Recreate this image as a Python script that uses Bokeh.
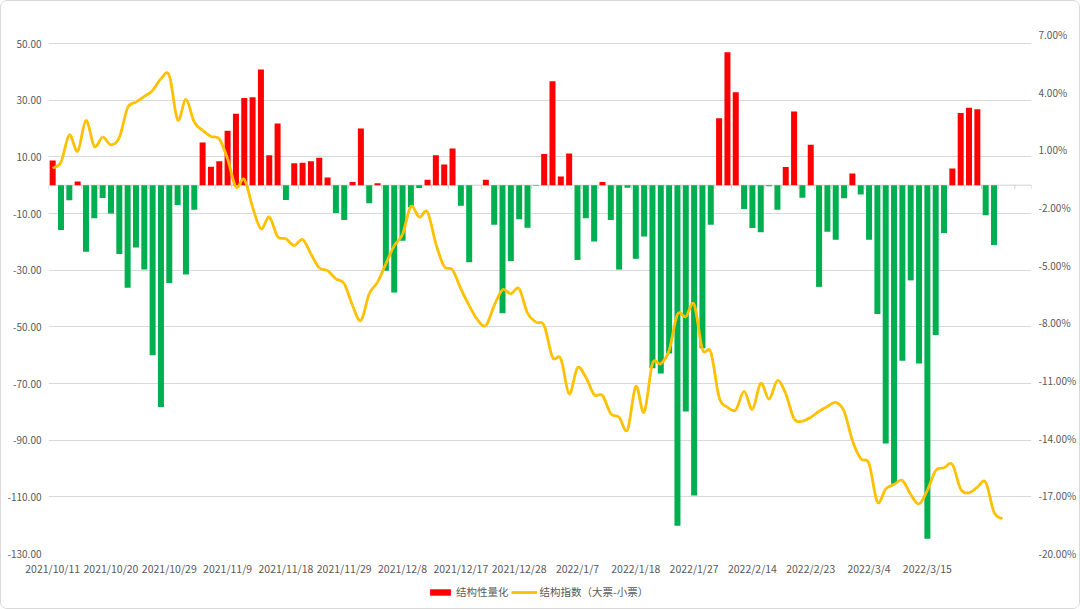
import numpy as np
from bokeh.plotting import figure
from bokeh.layouts import column
from bokeh.models import (Range1d, LinearAxis, FixedTicker, PrintfTickFormatter,
                          Legend, LegendItem, ColumnDataSource, Span)
from bokeh.embed import file_html
from bokeh.resources import INLINE

# ---------------- data ----------------
tick_labels = ["2021/10/11", "2021/10/20", "2021/10/29", "2021/11/9", "2021/11/18",
               "2021/11/29", "2021/12/8", "2021/12/17", "2021/12/28", "2022/1/7",
               "2022/1/18", "2022/1/27", "2022/2/14", "2022/2/23", "2022/3/4", "2022/3/15"]
label_step = 7          # one date label every 7 trading days
n_slots = 118           # category slots on the axis (the last few are empty)

# 结构性量化 (bars, left axis)
bar_values = [
    8.7, -15.8, -5.3, 1.3, -23.5, -11.7, -4.5, -10.0, -24.3, -36.2, -22.0, -29.8, -60.0, -78.3,
    -34.5, -7.0, -31.5, -8.7, 15.1,
    6.5, 8.4, 19.2, 25.2, 30.8, 31.0, 40.8, 10.6, 21.8, -5.2, 7.7, 7.9, 8.4, 9.7, 2.7, -9.8,
    -12.3, 1.1, 20.0,
    -6.4, 0.7, -30.2, -37.9, -19.6, -7.8, -1.0, 1.9, 10.6, 7.3, 12.9, -7.3, -27.2, 0.0, 1.9,
    -14.0, -45.2, -26.8, -12.0, -15.0,
    -0.2, 11.0, 36.7, 3.1, 11.2, -26.4, -11.7, -19.9, 1.1, -12.3, -29.8, -0.9, -26.0, -18.1,
    -64.6, -66.5, -59.4, -120.2, -79.9,
    -109.5, -57.6, -14.0, 23.6, 46.9, 32.8, -8.4, -15.1, -16.6, -0.4, -8.7, 6.4, 26.0, -4.4,
    14.3, -35.9, -16.4, -19.3, -4.6,
    4.1, -3.3, -19.3, -45.5, -91.2, -105.4, -62.0, -33.6, -62.9, -124.8, -52.9, -16.9, 5.9,
    25.5, 27.3, 26.8, -10.6, -21.1,
]

# 结构指数（大票-小票）(line, right axis, in %)
line_values = [
    0.05, 0.36, 1.78, 0.93, 2.53, 1.18, 1.66, 1.26, 1.64, 3.19, 3.48, 3.78, 4.09, 4.70, 4.87,
    2.56, 3.62, 2.44, 2.01,
    1.70, 1.57, 0.53, -0.94, -0.54, -1.98, -3.11, -2.50, -3.51, -3.63, -3.98, -3.66, -4.41,
    -5.14, -5.28, -5.71, -5.97, -7.10, -7.88,
    -6.49, -5.88, -4.93, -3.98, -3.40, -1.95, -2.50, -2.24, -3.89, -5.07, -5.24, -6.23, -7.10,
    -7.84, -8.14, -7.10, -6.28, -6.49, -6.23, -7.50,
    -7.96, -8.14, -9.79, -9.87, -11.69, -10.34, -10.83, -11.74, -11.78, -12.73, -12.91, -13.57,
    -11.31, -12.65, -10.13, -10.13, -9.44, -7.56, -7.68,
    -7.04, -9.39, -9.52, -11.87, -12.39, -12.53, -11.57, -12.50, -11.14, -11.97, -11.00,
    -11.69, -12.99, -13.11, -12.91, -12.60, -12.35, -12.14, -12.60,
    -14.12, -15.07, -15.33, -17.33, -16.64, -16.41, -16.20, -16.93, -17.42, -16.72, -15.68,
    -15.54, -15.37, -16.64, -16.84, -16.55, -16.29, -17.85, -18.20,
]

left_ticks = list(range(-130, 51, 20))
right_ticks = list(range(-20, 8, 3))
series_names = ["结构性量化", "结构指数（大票-小票）"]

# ---------------- style ----------------
FONT = "Noto Sans CJK SC"
TXT = "#595959"
GRID = "#D9D9D9"
RED = "#FF0000"
GREEN = "#00B050"
GOLD = "#FFC000"

W = 1078
H_MAIN, H_LEG = 578, 29

p = figure(width=W, height=H_MAIN, output_backend="svg", toolbar_location=None,
           x_range=Range1d(-0.5, n_slots - 0.5), y_range=Range1d(-130, 53.18),
           min_border_left=47, min_border_right=46, min_border_top=33,
           min_border_bottom=H_MAIN - 552)
p.extra_y_ranges = {"right": Range1d(-20, 7.001)}
p.outline_line_color = None
p.background_fill_color = "white"
p.border_fill_color = "white"

# grid
p.xgrid.visible = False
p.ygrid.ticker = FixedTicker(ticks=left_ticks)
p.ygrid.grid_line_color = GRID
p.ygrid.grid_line_width = 1


def style_axis(ax, standoff, size):
    ax.axis_line_color = None
    ax.major_tick_line_color = None
    ax.minor_tick_line_color = None
    ax.major_tick_out = 0
    ax.major_tick_in = 0
    ax.minor_tick_out = 0
    ax.minor_tick_in = 0
    ax.major_label_standoff = standoff
    ax.major_label_text_font = FONT
    ax.major_label_text_font_size = size
    ax.major_label_text_color = TXT


# left axis
ya = p.yaxis[0]
ya.ticker = FixedTicker(ticks=left_ticks)
ya.formatter = PrintfTickFormatter(format="%.2f")
style_axis(ya, 7, "10px")

# right axis
ra = LinearAxis(y_range_name="right", ticker=FixedTicker(ticks=right_ticks),
                formatter=PrintfTickFormatter(format="%.2f%%"))
style_axis(ra, 7, "10px")
p.add_layout(ra, "right")

# bottom axis (date labels)
xa = p.xaxis[0]
tick_pos = [i * label_step for i in range(len(tick_labels))]
xa.ticker = FixedTicker(ticks=tick_pos)
xa.major_label_overrides = {pos: lab for pos, lab in zip(tick_pos, tick_labels)}
style_axis(xa, 7, "10.5px")

# zero (category) axis line with small tick marks
p.add_layout(Span(location=0, dimension="width", line_color="#D0D0D0", line_width=1,
                  level="underlay"))
tx = np.arange(0, n_slots + 1, 2) - 0.5
p.segment(x0=tx, y0=np.zeros_like(tx), x1=tx, y1=np.full_like(tx, -1.45),
          line_color="#D0D0D0", line_width=1, level="underlay")

# bars
bv = np.array(bar_values)
src = ColumnDataSource(dict(x=np.arange(len(bv)), top=bv,
                            color=[RED if v >= 0 else GREEN for v in bv]))
p.vbar(x="x", top="top", bottom=0, width=0.72, fill_color="color",
       line_color=None, source=src)

# smooth line (Excel style) drawn as cubic Bezier segments through the data points
lv = np.array(line_values)
lx = np.arange(len(lv), dtype=float)
pts = np.column_stack([lx, lv])
prev = np.vstack([pts[:1], pts[:-1]])
nxt = np.vstack([pts[1:], pts[-1:]])
tang = (nxt - prev) / 6.0
c1 = pts[:-1] + tang[:-1]
c2 = pts[1:] - tang[1:]
p.bezier(x0=pts[:-1, 0], y0=pts[:-1, 1], x1=pts[1:, 0], y1=pts[1:, 1],
         cx0=c1[:, 0], cy0=c1[:, 1], cx1=c2[:, 0], cy1=c2[:, 1],
         line_color=GOLD, line_width=2.8, y_range_name="right")

# ---------------- legend strip under the chart ----------------
lp = figure(width=W, height=H_LEG, output_backend="svg", toolbar_location=None,
            x_axis_location=None, y_axis_location=None,
            x_range=Range1d(0, 1), y_range=Range1d(0, 1),
            min_border=0, min_border_left=0, min_border_right=0,
            min_border_top=0, min_border_bottom=0)
lp.outline_line_color = None
lp.grid.visible = False
lp.background_fill_color = "white"
lp.border_fill_color = "white"
nan = float("nan")
leg_bar = lp.vbar(x=[nan], top=[nan], bottom=0, width=0.5, fill_color=RED, line_color=None)
leg_line = lp.line(x=[nan], y=[nan], line_color=GOLD, line_width=2.8)

legend = Legend(items=[LegendItem(label=series_names[0], renderers=[leg_bar], index=0),
                       LegendItem(label=series_names[1], renderers=[leg_line], index=0)],
                orientation="horizontal", location=(379, 9),
                border_line_color=None, background_fill_alpha=0,
                label_text_font=FONT, label_text_font_size="10.5px", label_text_color=TXT,
                glyph_width=26, glyph_height=8, label_standoff=3, spacing=2,
                label_height=12, padding=0, margin=0)
lp.add_layout(legend, "center")

layout = column(p, lp, spacing=0,
                styles={"border": "1px solid #D9D9D9", "border-radius": "7px",
                        "overflow": "hidden", "background-color": "white"})

open("out.html", "w").write(file_html(layout, INLINE))
